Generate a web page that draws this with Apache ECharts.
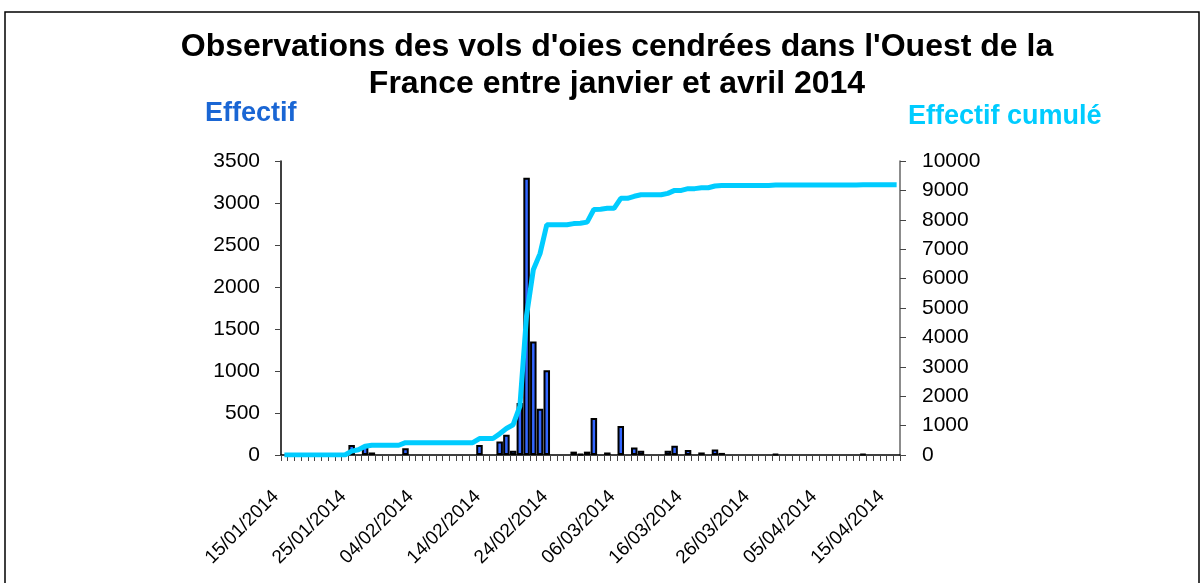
<!DOCTYPE html>
<html lang="fr">
<head>
    <meta charset="UTF-8">
    <title>Vols d'oies cendrées</title>
    <script src="https://cdn.jsdelivr.net/npm/echarts@6/dist/echarts.min.js"></script>
    <style>
        html, body { margin: 0; padding: 0; background: #fff; }
        #container { width: 1204px; height: 583px; }
    </style>
</head>
<body>
<div id="container"></div>
<script type="text/javascript">
    // Dates (one category per day)
    var dates = [
        '15/01/2014', '16/01/2014', '17/01/2014', '18/01/2014', '19/01/2014', '20/01/2014', '21/01/2014', '22/01/2014', '23/01/2014', '24/01/2014',
        '25/01/2014', '26/01/2014', '27/01/2014', '28/01/2014', '29/01/2014', '30/01/2014', '31/01/2014', '01/02/2014', '02/02/2014', '03/02/2014',
        '04/02/2014', '05/02/2014', '06/02/2014', '07/02/2014', '08/02/2014', '09/02/2014', '10/02/2014', '11/02/2014', '12/02/2014', '13/02/2014',
        '14/02/2014', '15/02/2014', '16/02/2014', '17/02/2014', '18/02/2014', '19/02/2014', '20/02/2014', '21/02/2014', '22/02/2014', '23/02/2014',
        '24/02/2014', '25/02/2014', '26/02/2014', '27/02/2014', '28/02/2014', '01/03/2014', '02/03/2014', '03/03/2014', '04/03/2014', '05/03/2014',
        '06/03/2014', '07/03/2014', '08/03/2014', '09/03/2014', '10/03/2014', '11/03/2014', '12/03/2014', '13/03/2014', '14/03/2014', '15/03/2014',
        '16/03/2014', '17/03/2014', '18/03/2014', '19/03/2014', '20/03/2014', '21/03/2014', '22/03/2014', '23/03/2014', '24/03/2014', '25/03/2014',
        '26/03/2014', '27/03/2014', '28/03/2014', '29/03/2014', '30/03/2014', '31/03/2014', '01/04/2014', '02/04/2014', '03/04/2014', '04/04/2014',
        '05/04/2014', '06/04/2014', '07/04/2014', '08/04/2014', '09/04/2014', '10/04/2014', '11/04/2014', '12/04/2014', '13/04/2014', '14/04/2014',
        '15/04/2014', '16/04/2014'
    ];

    // Effectif (birds per day)
    var effectif = [
        0, 0, 0, 0, 0, 0, 0, 0, 0, 0,
        120, 0, 110, 30, 0, 0, 0, 0, 80, 0,
        0, 0, 0, 0, 0, 0, 0, 0, 0, 120,
        0, 0, 160, 240, 50, 620, 3300, 1350, 550, 1010,
        0, 0, 0, 40, 10, 40, 440, 0, 30, 0,
        345, 0, 90, 50, 0, 0, 0, 50, 110, 0,
        60, 0, 30, 0, 65, 25, 0, 0, 0, 0,
        0, 0, 0, 10, 0, 0, 0, 0, 0, 0,
        0, 0, 0, 0, 0, 0, 10, 0, 0, 0,
        0, 0
    ];

    // Effectif cumulé
    var cumule = [
        0, 0, 0, 0, 0, 0, 0, 0, 0, 0,
        130, 180, 300, 330, 330, 330, 330, 330, 420, 420,
        420, 420, 420, 420, 420, 420, 420, 420, 420, 560,
        560, 560, 720, 900, 1030, 1650, 4750, 6300, 6850, 7830,
        7830, 7830, 7830, 7870, 7880, 7920, 8350, 8360, 8390, 8390,
        8730, 8730, 8800, 8850, 8850, 8850, 8850, 8900, 9000, 9000,
        9060, 9060, 9090, 9090, 9150, 9170, 9170, 9170, 9170, 9170,
        9170, 9170, 9170, 9180, 9180, 9180, 9180, 9180, 9180, 9180,
        9180, 9180, 9180, 9180, 9180, 9180, 9190, 9190, 9190, 9190,
        9190, 9190
    ];

    var leftTicks = [0, 3500, 500];
    var rightTicks = [0, 10000, 1000];

    var font = 'Liberation Sans, Arial, sans-serif';

    var dom = document.getElementById('container');
    var myChart = echarts.init(dom);

    var option = {
        animation: false,
        backgroundColor: '#fff',
        textStyle: { fontFamily: font },
        title: {
            text: "Observations des vols d'oies cendrées dans l'Ouest de la\nFrance entre janvier et avril 2014",
            left: 612,
            top: 24,
            textAlign: 'center',
            textStyle: {
                fontFamily: font,
                fontSize: 32,
                fontWeight: 'bold',
                color: '#000',
                lineHeight: 37
            }
        },
        graphic: [
            {
                type: 'rect',
                shape: { x: 5, y: 12, width: 1194, height: 620 },
                style: { fill: 'none', stroke: '#000', lineWidth: 1.5 },
                silent: true
            },
            {
                type: 'text',
                left: 205,
                top: 100,
                style: { text: 'Effectif', fill: '#1a66d4', font: 'bold 27px ' + font }
            },
            {
                type: 'text',
                left: 908,
                top: 103,
                style: { text: 'Effectif cumulé', fill: '#00ccff', font: 'bold 27px ' + font }
            }
        ],
        grid: {
            left: 281,
            right: 304,
            top: 161,
            bottom: 128
        },
        xAxis: {
            type: 'category',
            data: dates,
            boundaryGap: true,
            axisLine: { lineStyle: { color: '#000', width: 1.5 } },
            axisTick: { show: true, interval: 0, length: 6, lineStyle: { color: '#444' } },
            axisLabel: {
                interval: 9,
                rotate: 45,
                margin: 30,
                padding: [0, 12, 0, 0],
                fontSize: 19,
                color: '#000',
                fontFamily: font
            }
        },
        yAxis: [
            {
                type: 'value',
                min: leftTicks[0],
                max: leftTicks[1],
                interval: leftTicks[2],
                splitLine: { show: false },
                axisLine: { show: true, lineStyle: { color: '#000', width: 1.5 } },
                axisTick: { show: true, length: 6, lineStyle: { color: '#444' } },
                axisLabel: {
                    fontSize: 21, color: '#000', margin: 21, fontFamily: font,
                    formatter: function (v) { return String(v); }
                }
            },
            {
                type: 'value',
                min: rightTicks[0],
                max: rightTicks[1],
                interval: rightTicks[2],
                splitLine: { show: false },
                axisLine: { show: true, lineStyle: { color: '#666', width: 1.5 } },
                axisTick: { show: true, length: 6, lineStyle: { color: '#444' } },
                axisLabel: {
                    fontSize: 21, color: '#000', margin: 22, fontFamily: font,
                    formatter: function (v) { return String(v); }
                }
            }
        ],
        series: [
            {
                name: 'Effectif',
                type: 'bar',
                yAxisIndex: 0,
                barWidth: 6.5,
                data: effectif.map(function (v) { return v === 0 ? null : v; }),
                itemStyle: {
                    color: '#3366ff',
                    borderColor: '#000',
                    borderWidth: 2
                }
            },
            {
                name: 'Effectif cumulé',
                type: 'line',
                yAxisIndex: 1,
                data: cumule,
                showSymbol: false,
                symbol: 'none',
                lineStyle: { color: '#00ccff', width: 5 },
                z: 3
            }
        ]
    };

    myChart.setOption(option);
</script>
</body>
</html>
